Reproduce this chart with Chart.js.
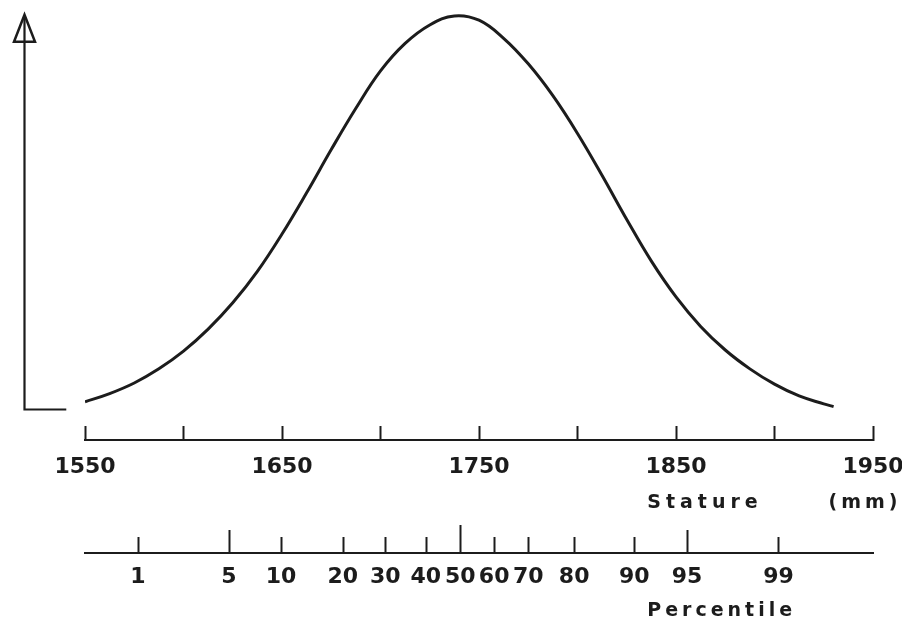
<!DOCTYPE html>
<html>
<head>
<meta charset="utf-8">
<script src="https://cdn.jsdelivr.net/npm/chart.js@4.4.1/dist/chart.umd.min.js"></script>
<style>
  html, body { margin: 0; padding: 0; background: #ffffff; }
  #wrap { width: 902px; height: 621px; }
</style>
</head>
<body>
<div id="wrap"><canvas id="c" width="902" height="621"></canvas></div>
<script>
// ---- data ----
const stature = [1550,1562.5,1575,1587.5,1600,1612.5,1625,1637.5,1650,1662.5,1675,1687.5,1700,1712.5,1725,1737.5,1750,1762.5,1775,1787.5,1800,1812.5,1825,1837.5,1850,1862.5,1875,1887.5,1900,1912.5,1925,1930];
const frequency = [1.8,3.9,6.6,10.2,14.7,20.3,27.0,35.0,44.5,55.0,66.0,76.5,86.0,93.0,97.7,100,98.9,94.3,87.8,79.7,70.1,59.4,48.2,37.6,28.5,21.0,15.0,10.2,6.3,3.3,1.3,0.6];
const statureLabels = [1550,1650,1750,1850,1950];
const pctLabels = ['1','5','10','20','30','40','50','60','70','80','90','95','99'];
const pctStature = [1576.8,1623.1,1649.5,1680.9,1702.4,1723,1740.5,1757.7,1775,1798.3,1828.8,1855.6,1902];

const INK = '#1c1c1c';
const TICK_FONT = { family: '"DejaVu Sans", sans-serif', size: 22, weight: 'bold' };

const decor = {
  id: 'decor',
  afterDraw(chart) {
    const { ctx } = chart;
    const x = chart.scales.x, y = chart.scales.y, xp = chart.scales.xp;
    ctx.save();
    ctx.strokeStyle = INK;
    ctx.fillStyle = INK;
    ctx.lineCap = 'butt';
    // percentile tick marks (pointing up)
    ctx.lineWidth = 2;
    xp.ticks.forEach((t, i) => {
      const lab = pctLabels[i];
      const len = lab === '50' ? 28 : (lab === '5' || lab === '95') ? 23 : 16;
      const px = Math.round(xp.getPixelForValue(t.value)) + 0.5;
      ctx.beginPath();
      ctx.moveTo(px, xp.top);
      ctx.lineTo(px, xp.top - len);
      ctx.stroke();
    });
    // frequency axis: L shape with open arrow head
    const ax = Math.round(x.getPixelForValue(1519)) + 0.5;
    const y0 = Math.round(y.getPixelForValue(0)) + 0.5;
    const yTop = y.getPixelForValue(100.3);
    const xEnd = x.getPixelForValue(1540.5);
    ctx.lineWidth = 2.2;
    ctx.beginPath();
    ctx.moveTo(xEnd, y0);
    ctx.lineTo(ax, y0);
    ctx.lineTo(ax, yTop + 2);
    ctx.stroke();
    ctx.lineWidth = 2.5;
    ctx.lineJoin = 'miter';
    ctx.beginPath();
    ctx.moveTo(ax, yTop);
    ctx.lineTo(ax - 10.5, yTop + 27);
    ctx.lineTo(ax + 10.5, yTop + 27);
    ctx.closePath();
    ctx.stroke();
    // axis titles
    ctx.textAlign = 'left';
    ctx.textBaseline = 'alphabetic';
    ctx.font = 'bold 19px "DejaVu Sans", sans-serif';
    ctx.letterSpacing = '5px';
    ctx.fillText('Stature', x.getPixelForValue(1835.4), x.top + 68);
    ctx.letterSpacing = '4px';
    ctx.fillText('(mm)', x.getPixelForValue(1927.4), x.top + 68);
    ctx.fillText('Percentile', x.getPixelForValue(1835.4), xp.top + 63);
    ctx.restore();
  }
};

new Chart(document.getElementById('c'), {
  type: 'line',
  data: {
    datasets: [{
      data: stature.map((s, i) => ({ x: s, y: frequency[i] })),
      borderColor: INK,
      borderWidth: 3,
      pointRadius: 0,
      fill: false,
      tension: 0.4
    }]
  },
  options: {
    responsive: false,
    animation: false,
    events: [],
    layout: { padding: { left: 85, right: 29, top: 10, bottom: 0 } },
    plugins: { legend: { display: false }, tooltip: { enabled: false } },
    scales: {
      x: {
        type: 'linear',
        position: 'bottom',
        weight: 1,
        min: 1550,
        max: 1950,
        border: { display: true, color: INK, width: 2 },
        grid: { drawOnChartArea: false, drawTicks: true, tickLength: -14, tickColor: INK, tickWidth: 2 },
        ticks: {
          stepSize: 50,
          autoSkip: false,
          maxRotation: 0,
          color: INK,
          font: TICK_FONT,
          padding: 28,
          callback: (v) => statureLabels.includes(v) ? String(v) : ''
        },
        afterFit: (s) => { s.height = 113; s.paddingLeft = 0; s.paddingRight = 0; }
      },
      xp: {
        type: 'linear',
        position: 'bottom',
        weight: 2,
        min: 1550,
        max: 1950,
        border: { display: true, color: INK, width: 2 },
        grid: { drawOnChartArea: false, drawTicks: false },
        afterBuildTicks: (s) => { s.ticks = pctStature.map(v => ({ value: v })); },
        ticks: {
          autoSkip: false,
          maxRotation: 0,
          color: INK,
          font: TICK_FONT,
          padding: 11,
          callback: (v, i) => pctLabels[i]
        },
        afterFit: (s) => { s.height = 68; s.paddingLeft = 0; s.paddingRight = 0; }
      },
      y: {
        type: 'linear',
        display: false,
        min: -7.9,
        max: 101.5
      }
    }
  },
  plugins: [decor]
});
</script>
</body>
</html>
